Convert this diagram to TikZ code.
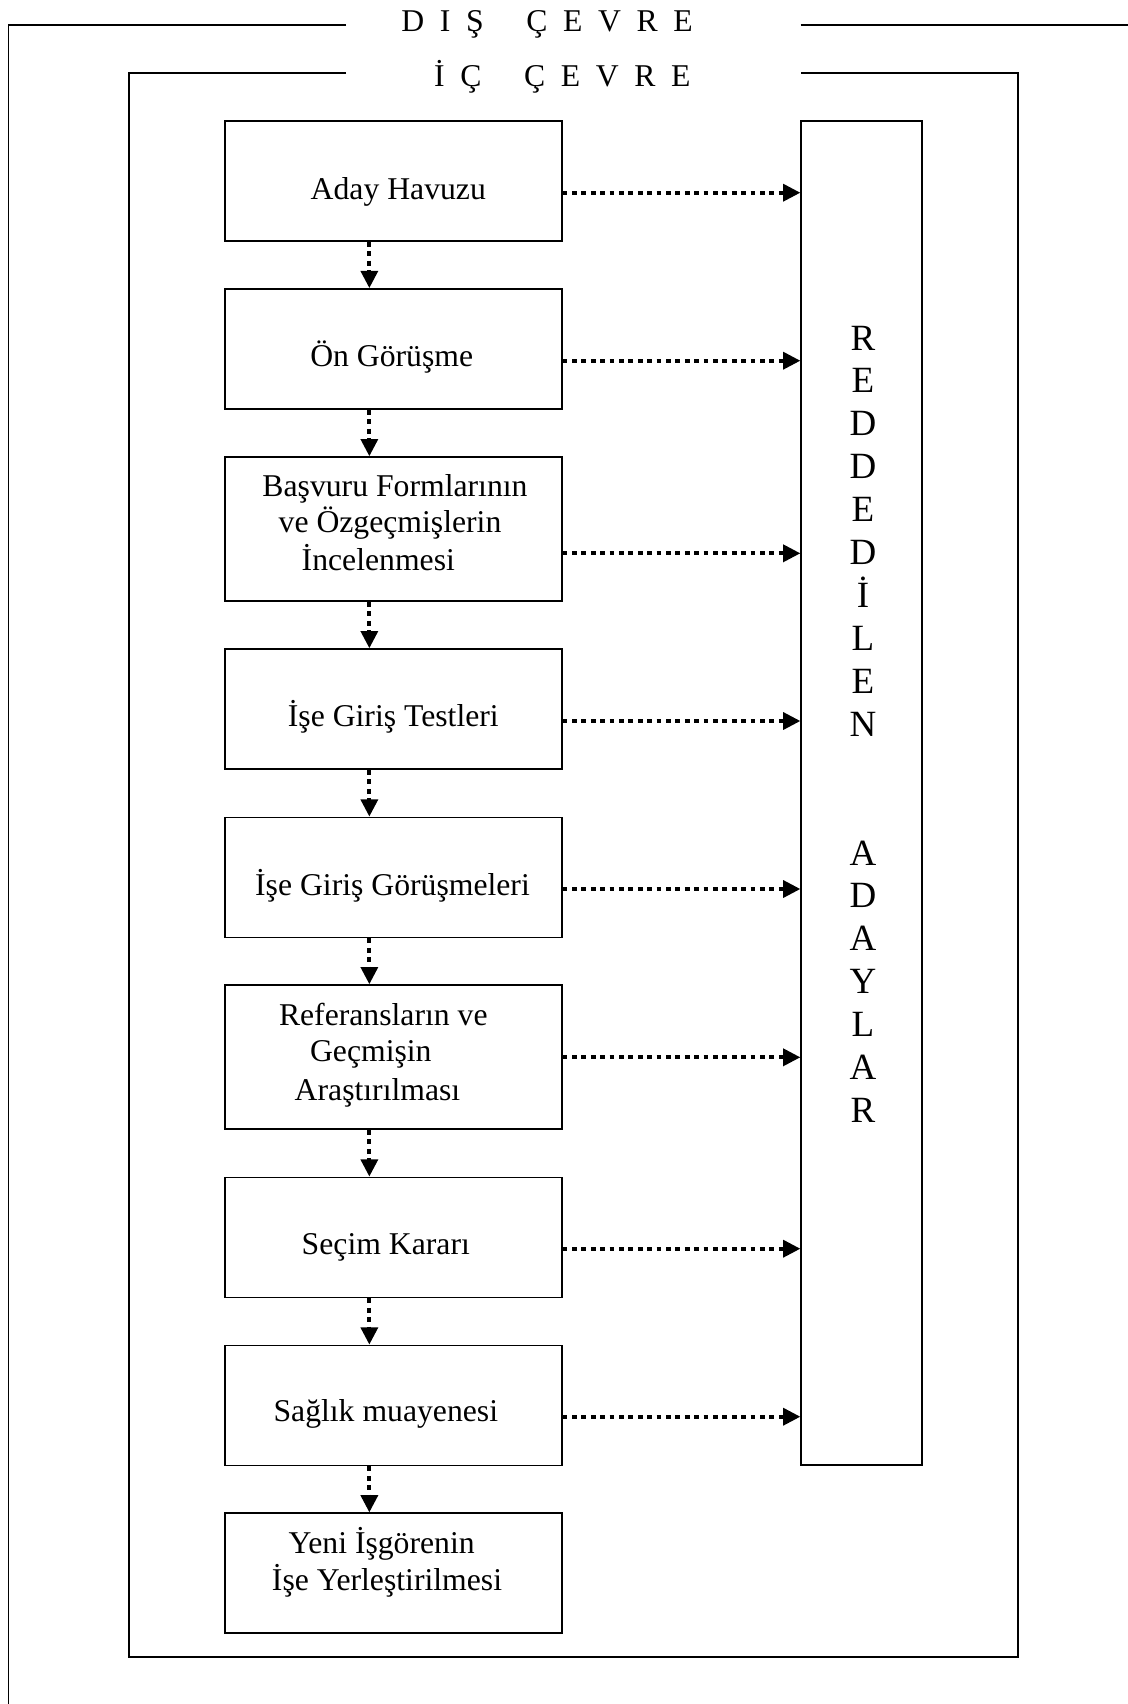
\documentclass[tikz,border=0pt]{standalone}
\usepackage{fontspec}
\setmainfont{Liberation Serif}
\usetikzlibrary{arrows.meta}

% text sizes: stage captions and the vertical side caption
\newcommand\stagefont{\fontsize{15.85pt}{18.5pt}\selectfont}
\newcommand\sidefont{\fontsize{18.5pt}{21.5pt}\selectfont}
% letter spacing of the spaced-out frame titles
\newcommand\lettergap{\hspace{7.8pt}}
\newcommand\wordgap{\hspace{21.4pt}}

\begin{document}
\begin{tikzpicture}[x=0.5pt,y=-0.5pt,
  frame/.style={line width=0.9pt},
  stage/.style={draw, line width=0.9pt, minimum width=168.35pt, minimum height=60pt, inner sep=0pt},
  tallstage/.style={stage, minimum height=72pt},
  lbl/.style={anchor=base, inner sep=0pt, font=\stagefont},
  title/.style={anchor=base west, inner sep=0pt, font=\stagefont},
  sidechar/.style={anchor=base, inner sep=0pt, font=\sidefont},
  flow/.style={line width=1.9pt, dash pattern=on 2.4pt off 2.3pt,
               -{Triangle[length=8.6pt,width=8.4pt]}},
]
\useasboundingbox (0,0) rectangle (1128,1704);
\fill[white] (0,0) rectangle (1128,1704);

% outer environment (open frame)
\draw[frame] (346,25) -- (8.5,25) -- (8.5,1704);
\draw[frame] (800.7,25) -- (1128,25);
\node[title] (outertitle) at (401,31.7)
  {D\lettergap I\lettergap Ş\wordgap Ç\lettergap E\lettergap V\lettergap R\lettergap E};

% inner environment
\draw[frame] (346,72.7) -- (129.3,72.7) -- (129.3,1657.3) -- (1018,1657.3)
  -- (1018,72.7) -- (800.7,72.7);
\node[title] (innertitle) at (433.7,86)
  {İ\lettergap Ç\wordgap Ç\lettergap E\lettergap V\lettergap R\lettergap E};

% selection stages
\node[stage]     (b1) at (393.35,181)     {};
\node[stage]     (b2) at (393.35,349)     {};
\node[tallstage] (b3) at (393.35,529.15)  {};
\node[stage]     (b4) at (393.35,709.15)  {};
\node[stage]     (b5) at (393.35,877.5)   {};
\node[tallstage] (b6) at (393.35,1057.15) {};
\node[stage]     (b7) at (393.35,1237.5)  {};
\node[stage]     (b8) at (393.35,1405.5)  {};
\node[stage]     (b9) at (393.35,1573.3)  {};

% stage captions
\node[lbl] (t1)  at (398.3,199.3)  {Aday Havuzu};
\node[lbl] (t2)  at (391.7,366.7)  {Ön Görüşme};
\node[lbl] (t3a) at (395,496.7)    {Başvuru Formlarının};
\node[lbl] (t3b) at (390,532.7)    {ve Özgeçmişlerin};
\node[lbl] (t3c) at (378.3,570.7)  {İncelenmesi};
\node[lbl] (t4)  at (393.3,726.7)  {İşe Giriş Testleri};
\node[lbl] (t5)  at (392.5,895)    {İşe Giriş Görüşmeleri};
\node[lbl] (t6a) at (383.3,1025)   {Referansların ve};
\node[lbl] (t6b) at (370.8,1061.7) {Geçmişin};
\node[lbl] (t6c) at (377.5,1100)   {Araştırılması};
\node[lbl] (t7)  at (385.8,1254)   {Seçim Kararı};
\node[lbl] (t8)  at (385.8,1421.7) {Sağlık muayenesi};
\node[lbl] (t9a) at (381.7,1553.3) {Yeni İşgörenin};
\node[lbl] (t9b) at (387,1590)     {İşe Yerleştirilmesi};

% rejected candidates column
\node[draw, line width=0.9pt, minimum width=60.2pt, minimum height=672.15pt, inner sep=0pt]
  (rej) at (861.5,793.15) {};
\foreach \ch [count=\i from 0] in {R,E,D,D,E,D,İ,L,E,N}
  \node[sidechar] (ra\i) at (863,{350+\i*42.95}) {\ch};
\foreach \ch [count=\i from 0] in {A,D,A,Y,L,A,R}
  \node[sidechar] (rb\i) at (863,{865+\i*42.95}) {\ch};

% flow down the stages
\foreach \a/\b in {b1/b2,b2/b3,b3/b4,b4/b5,b5/b6,b6/b7,b7/b8,b8/b9}
  \draw[flow] ([xshift=-12pt]\a.south) -- ([xshift=-12pt]\b.north);

% rejections
\foreach \b/\y [count=\i] in {b1/192.7,b2/360.7,b3/553.3,b4/721,b5/889,b6/1057.3,b7/1248.7,b8/1416.7}{
  \coordinate (h\i) at (0,\y);
  \draw[flow] (\b.east |- h\i) -- (rej.west |- h\i);
}
\end{tikzpicture}
\end{document}
